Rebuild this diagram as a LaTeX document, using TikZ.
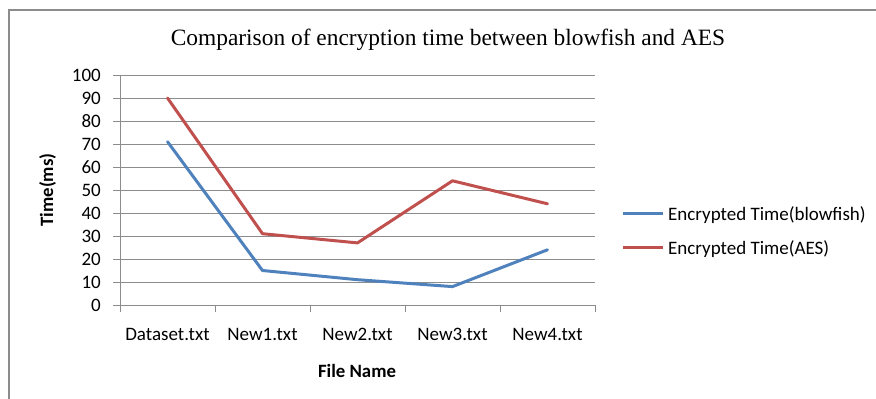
\documentclass[tikz,border=0pt]{standalone}
\usepackage{fontspec}
\setmainfont{Carlito}
\newfontfamily\titlefont{Liberation Serif}
\definecolor{serblue}{HTML}{4F81BD}
\definecolor{serred}{HTML}{C0504D}
\definecolor{gridgray}{HTML}{8C8C8C}
\begin{document}
\begin{tikzpicture}[x=1pt,y=-1pt,
  grid/.style={draw=gridgray,line width=1pt},
  series/.style={line width=3pt,line join=round,line cap=round},
  lbl/.style={font=\fontsize{19}{19}\selectfont,inner sep=0pt},
  axtitle/.style={font=\fontsize{18.8}{19}\selectfont\bfseries,inner sep=0pt}]
\useasboundingbox (0,0) rectangle (876,399);
% outer frame (top and left edges visible)
\draw[draw=gridgray,line width=2pt] (876,10) -- (9,10) -- (9,399);
% title
\node[font=\titlefont\fontsize{23.4}{24}\selectfont,anchor=base,inner sep=0pt] (title) at (448,45) {Comparison of encryption time between blowfish and AES};
% horizontal gridlines and y labels
\foreach \v in {0,10,...,100}{
  \pgfmathsetmacro{\yy}{305-2.3*\v}
  \draw[grid] (113,\yy) -- (595,\yy);
  \node[lbl,anchor=east] (y\v) at (101,\yy) {\v};
}
% vertical axis
\draw[grid] (120,75) -- (120,312);
% category ticks
\foreach \xx in {215,310,405,500,595}{
  \draw[grid] (\xx,305) -- (\xx,312);
}
% category labels
\foreach \xx/\t [count=\i] in {167.5/Dataset.txt,262.5/New1.txt,357.5/New2.txt,452.5/New3.txt,547.5/New4.txt}{
  \node[lbl,anchor=base] (c\i) at (\xx,340) {\t};
}
% axis titles
\node[axtitle,anchor=base] (xt) at (357,377) {File Name};
\node[axtitle,anchor=base,rotate=90] (yt) at (53,190) {Time(ms)};
% series
\draw[series,serblue] (167.5,{305-2.3*71}) -- (262.5,{305-2.3*15}) -- (357.5,{305-2.3*11}) -- (452.5,{305-2.3*8}) -- (547.5,{305-2.3*24});
\draw[series,serred] (167.5,{305-2.3*90}) -- (262.5,{305-2.3*31}) -- (357.5,{305-2.3*27}) -- (452.5,{305-2.3*54}) -- (547.5,{305-2.3*44});
% legend
\coordinate (lb1) at (623,213);
\coordinate (lb2) at (663,213);
\coordinate (lr1) at (623,247);
\coordinate (lr2) at (663,247);
\draw[serblue,line width=3pt] (lb1) -- (lb2);
\draw[serred,line width=3pt] (lr1) -- (lr2);
\node[lbl,anchor=base west] (leg1) at (668,220) {Encrypted Time(blowfish)};
\node[lbl,anchor=base west] (leg2) at (668,254) {Encrypted Time(AES)};
\end{tikzpicture}
\end{document}
